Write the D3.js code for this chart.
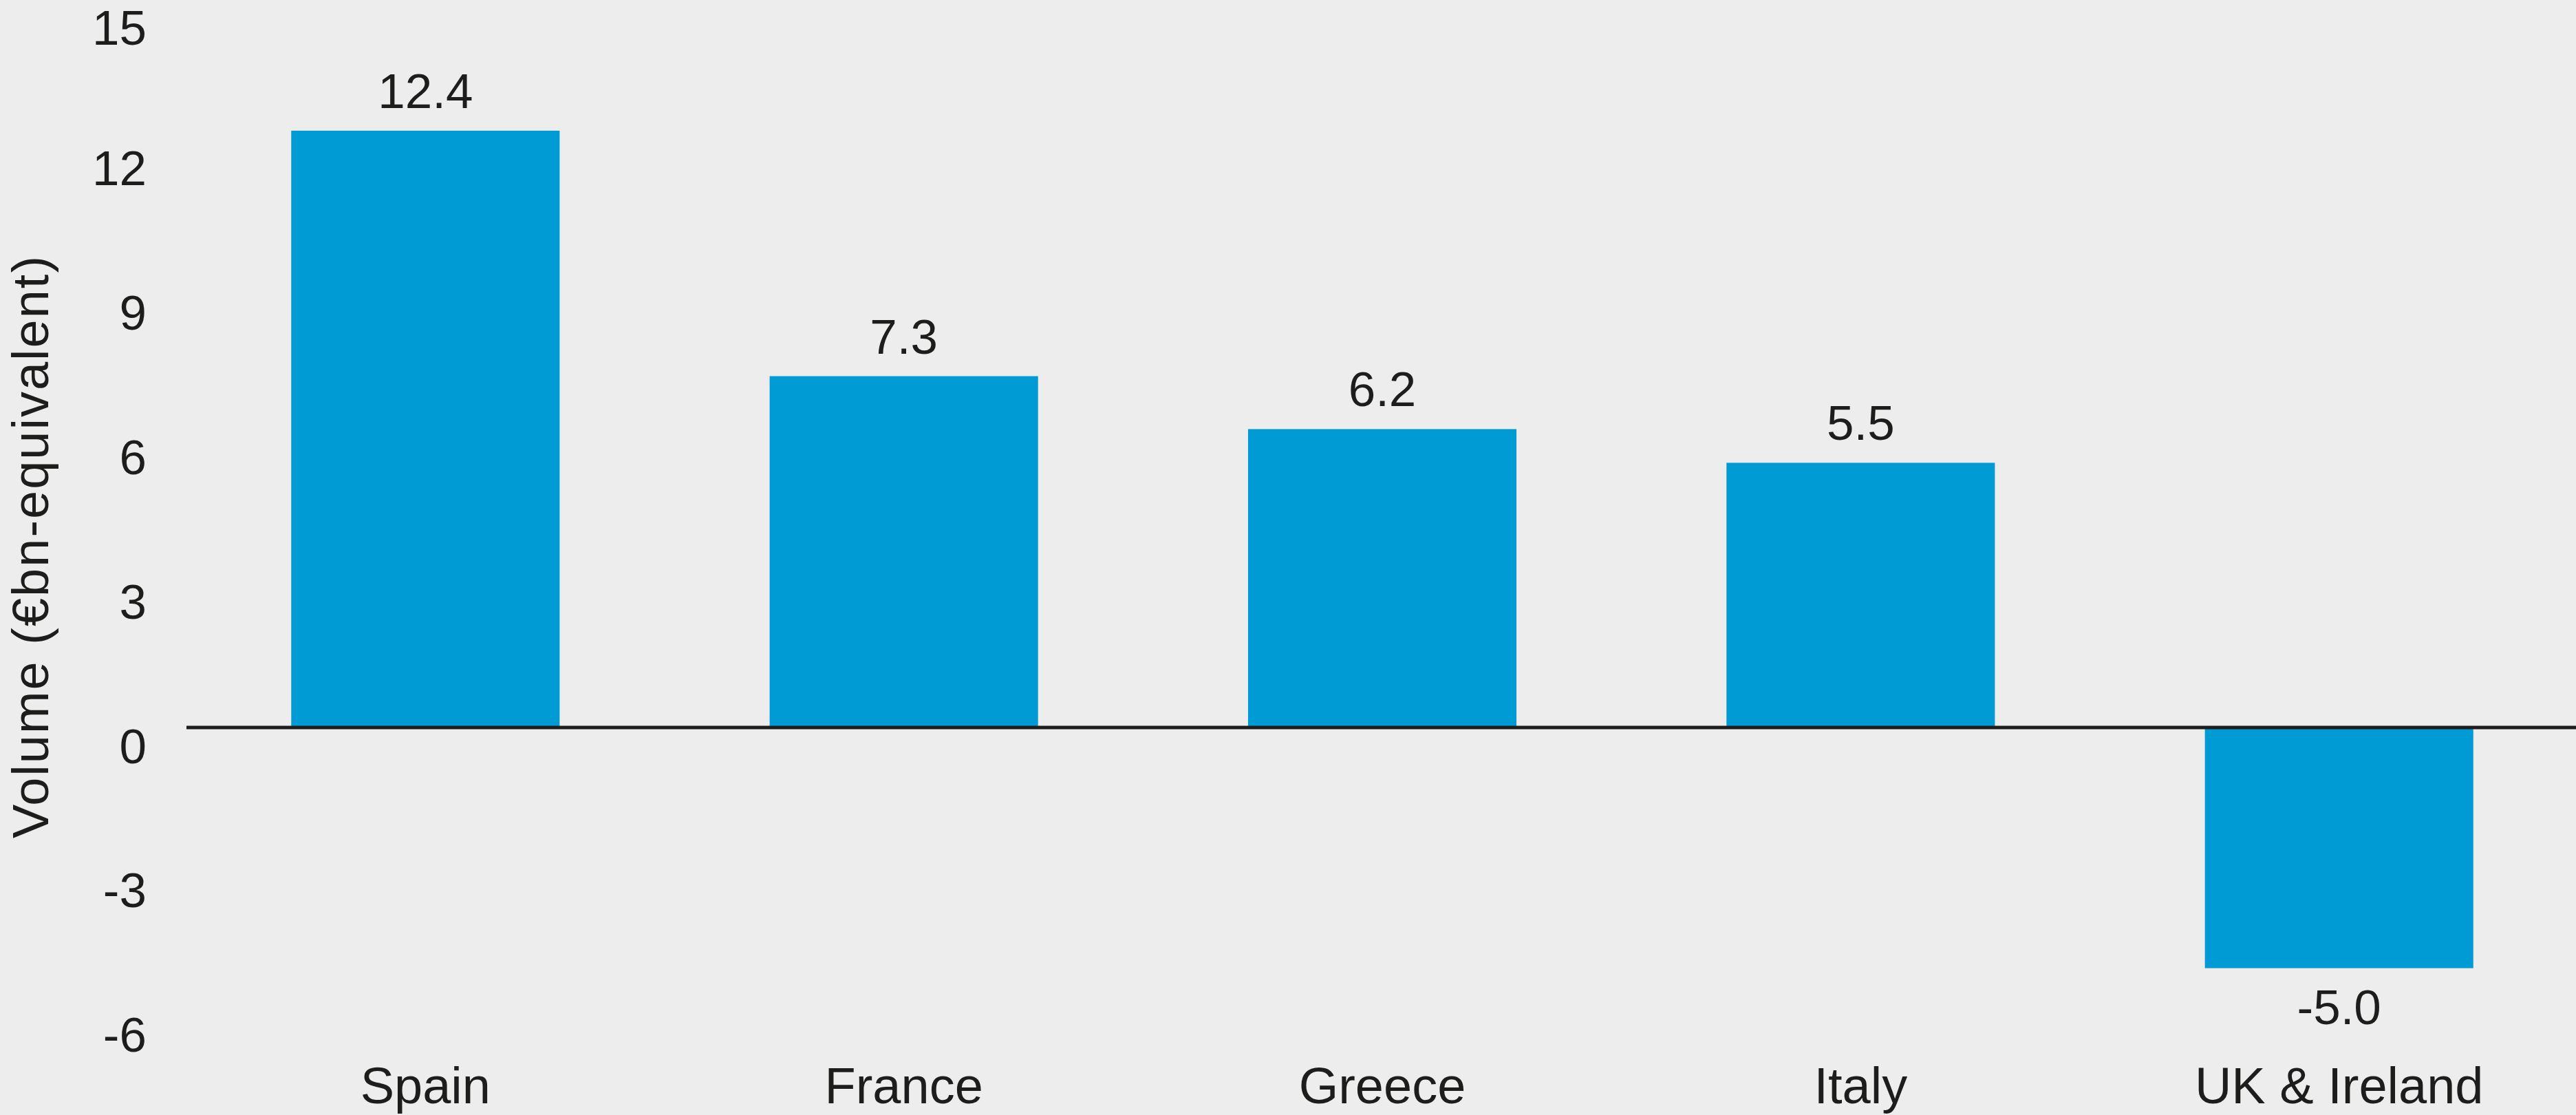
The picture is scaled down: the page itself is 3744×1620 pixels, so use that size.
<!DOCTYPE html>
<html>
<head>
<meta charset="utf-8">
<script src="https://cdn.jsdelivr.net/npm/d3@7"></script>
<style>
  html, body { margin: 0; padding: 0; background: #ededed; }
  svg { display: block; }
  text { font-family: "Liberation Sans", Arial, sans-serif; fill: #1d1d1b; }
</style>
</head>
<body>
<script>
// chart data
var countries = ["Spain", "France", "Greece", "Italy", "UK & Ireland"];
var volumes = [12.4, 7.3, 6.2, 5.5, -5.0];
var valueLabels = ["12.4", "7.3", "6.2", "5.5", "-5.0"];
var yTicks = [-6, -3, 0, 3, 6, 9, 12, 15];

var width = 3744, height = 1620;

var svg = d3.select("body").append("svg")
    .attr("width", width)
    .attr("height", height);

svg.append("rect")
    .attr("width", width)
    .attr("height", height)
    .attr("fill", "#ededed");

var x = d3.scaleBand()
    .domain(countries)
    .range([271, 3747])
    .paddingInner(0.439)
    .paddingOuter(0.219);

var y = d3.scaleLinear()
    .domain([-6, 15])
    .range([1057 + 6 * 69.93, 1057 - 15 * 69.93]);

// y axis labels, text top sits on the tick value
var yAxis = svg.append("g")
    .attr("transform", "translate(213,0)")
    .call(d3.axisLeft(y).tickValues(yTicks).tickSize(0).tickPadding(0)
        .tickFormat(function(d){ return String(d); }));
yAxis.select(".domain").remove();
yAxis.selectAll("text")
    .attr("dy", "0.72em")
    .style("font-family", "'Liberation Sans', Arial, sans-serif")
    .style("font-size", "71px")
    .attr("fill", "#1d1d1b");
// keep the top label inside the picture
yAxis.selectAll("text").filter(function(d){ return d === 15; })
    .attr("dy", "0.8em");

// axis title
svg.append("text")
    .attr("transform", "translate(70,794) rotate(-90)")
    .attr("text-anchor", "middle")
    .style("font-size", "74px")
    .style("letter-spacing", "2px")
    .text("Volume (\u20acbn-equivalent)");

// bars
svg.selectAll("rect.bar")
    .data(volumes)
    .enter().append("rect")
    .attr("class", "bar")
    .attr("x", function(d, i){ return x(countries[i]); })
    .attr("width", x.bandwidth())
    .attr("y", function(d){ return d >= 0 ? y(d) : y(0); })
    .attr("height", function(d){ return Math.abs(y(d) - y(0)); })
    .attr("fill", "#009ad4");

// zero line
svg.append("line")
    .attr("x1", 271)
    .attr("x2", width)
    .attr("y1", y(0))
    .attr("y2", y(0))
    .attr("stroke", "#1d1d1b")
    .attr("stroke-width", 5);

// value labels
svg.selectAll("text.val")
    .data(volumes)
    .enter().append("text")
    .attr("class", "val")
    .attr("x", function(d, i){ return x(countries[i]) + x.bandwidth() / 2; })
    .attr("y", function(d){ return d >= 0 ? y(d) - 33 : y(d) + 30; })
    .attr("dy", function(d){ return d >= 0 ? 0 : "0.72em"; })
    .attr("text-anchor", "middle")
    .style("font-size", "71px")
    .text(function(d, i){ return valueLabels[i]; });

// category labels
var xAxis = svg.append("g")
    .attr("transform", "translate(0,1603)")
    .call(d3.axisBottom(x).tickSize(0).tickPadding(0));
xAxis.select(".domain").remove();
xAxis.selectAll("text")
    .attr("y", 0)
    .attr("dy", 0)
    .style("font-family", "'Liberation Sans', Arial, sans-serif")
    .style("font-size", "74px")
    .attr("fill", "#1d1d1b");
</script>
</body>
</html>
